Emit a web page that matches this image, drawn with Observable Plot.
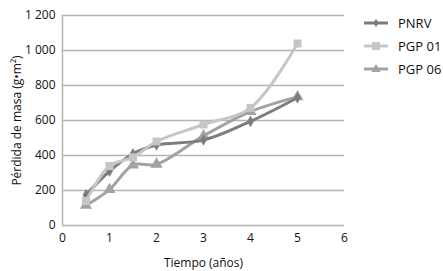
<!DOCTYPE html>
<html><head><meta charset="utf-8">
<script src="https://cdn.jsdelivr.net/npm/d3@7"></script>
<script src="https://cdn.jsdelivr.net/npm/@observablehq/plot@0.6"></script>
<style>
body{margin:0;background:#fff;font-family:"Open Sans",sans-serif;}
#wrap{position:relative;width:443px;height:271px;}
#legend{position:absolute;left:364px;top:11px;font-size:13px;color:#111;}
.row{display:flex;align-items:center;height:23px;}
.row svg{margin-right:10px;}
</style></head><body>
<div id="wrap"><div id="chart"></div><div id="legend"></div></div>
<script>
const years = [0.5, 1, 1.5, 2, 3, 4, 5];
const pnrv  = [175, 310, 410, 460, 488, 595, 730];
const pgp01 = [140, 340, 390, 480, 577, 672, 1040];
const pgp06 = [115, 205, 345, 350, 512, 651, 735];
const seriesNames = ["PNRV", "PGP 01", "PGP 06"];
const seriesColors = ["#7d7d7d", "#c6c6c6", "#a2a2a2"];
const seriesSymbols = ["diamond", "square", "triangle"];
const xTicks = [0, 1, 2, 3, 4, 5, 6];
const yTicks = [0, 200, 400, 600, 800, 1000, 1200];

const allSeries = [pnrv, pgp01, pgp06];
const data = [];
allSeries.forEach((vals, i) => vals.forEach((v, j) => data.push({s: seriesNames[i], x: years[j], y: v})));

const fmt = d => String(d).replace(/\B(?=(\d{3})+$)/g, " ");
const marks = [
  Plot.ruleY(yTicks, {stroke: "#b4b4b4", strokeWidth: 1.5}),
  Plot.ruleX([0], {stroke: "#b4b4b4", strokeWidth: 1.5}),
  Plot.axisX({ticks: xTicks, tickSize: 0, tickPadding: 8, fontSize: 12, tickFormat: d => String(d), label: "Tiempo (años)", labelAnchor: "center", labelArrow: "none", labelOffset: 41, fill: "#111"}),
  Plot.axisY({ticks: yTicks, tickSize: 0, tickPadding: 7, fontSize: 12, tickFormat: fmt, label: "Pérdida de masa (g•m²)", labelAnchor: "center", labelArrow: "none", labelOffset: 50, fill: "#111"})
];
// draw order: PGP 06, PNRV, PGP 01 on top
[2, 0, 1].forEach(i => {
  const d = data.filter(e => e.s === seriesNames[i]);
  marks.push(Plot.line(d, {x: "x", y: "y", stroke: seriesColors[i], strokeWidth: 3, curve: "catmull-rom"}));
  marks.push(Plot.dot(d, {x: "x", y: "y", fill: seriesColors[i], stroke: "none", symbol: seriesSymbols[i], r: i === 0 ? 3.5 : 4.5}));
});

const chart = Plot.plot({
  width: 443, height: 271,
  marginLeft: 62, marginRight: 99, marginTop: 15, marginBottom: 46,
  style: {fontFamily: "'Open Sans', sans-serif", fontSize: "12px", color: "#111", background: "#fff"},
  x: {domain: [0, 6]},
  y: {domain: [0, 1200]},
  marks
});
document.getElementById("chart").appendChild(chart);

const legend = document.getElementById("legend");
seriesNames.forEach((n, i) => {
  const row = document.createElement("div");
  row.className = "row";
  const shape = seriesSymbols[i] === "diamond" ? '<path d="M12 4 L15 8 L12 12 L9 8 Z" fill="'+seriesColors[i]+'"/>' :
                seriesSymbols[i] === "square" ? '<rect x="8" y="4" width="8" height="8" fill="'+seriesColors[i]+'"/>' :
                '<path d="M12 3 L16.5 11 L7.5 11 Z" fill="'+seriesColors[i]+'"/>';
  row.innerHTML = '<svg width="24" height="16"><line x1="0" x2="24" y1="8" y2="8" stroke="'+seriesColors[i]+'" stroke-width="3"/>'+shape+'</svg><span>'+n+'</span>';
  legend.appendChild(row);
});
</script></body></html>
